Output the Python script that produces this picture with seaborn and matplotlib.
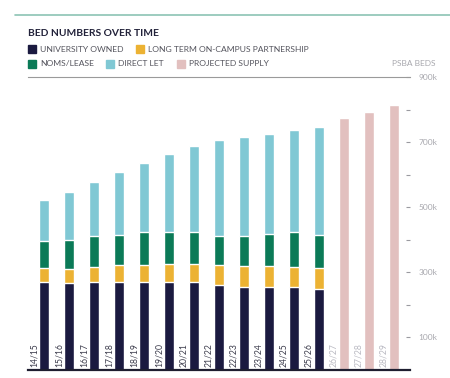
import matplotlib
matplotlib.use("Agg")
import matplotlib.pyplot as plt
from matplotlib.patches import Rectangle
from matplotlib.lines import Line2D
import numpy as np
import pandas as pd
import seaborn as sns

# data (thousands of beds)
years = ["14/15", "15/16", "16/17", "17/18", "18/19", "19/20", "20/21", "21/22",
         "22/23", "23/24", "24/25", "25/26", "26/27", "27/28", "28/29"]
university_owned = [270, 266, 270, 270, 270, 270, 270, 262, 256, 256, 256, 248]
long_term = [42, 43, 47, 51, 51, 56, 56, 59, 62, 62, 61, 65]
noms_lease = [83, 89, 94, 94, 103, 98, 98, 91, 94, 100, 107, 102]
direct_let = [128, 150, 167, 194, 213, 241, 265, 295, 303, 306, 312, 330]
projected = [773, 791, 813]

tick_vals = [100, 200, 300, 400, 500, 600, 700, 800, 900]
tick_labels = ["100k", "", "300k", "", "500k", "", "700k", "", "900k"]

c_uni = "#1b1a40"
c_lt = "#ecb233"
c_noms = "#0b7a57"
c_direct = "#80c8d4"
c_proj = "#e2c0bf"

sns.set_style("white")
plt.rcParams["font.family"] = ["Lato", "DejaVu Sans"]

n_actual = len(university_owned)
df = pd.DataFrame({"year": years})
df["uni"] = university_owned + [np.nan] * len(projected)
df["lt"] = df["uni"] + (long_term + [np.nan] * len(projected))
df["noms"] = df["lt"] + (noms_lease + [np.nan] * len(projected))
df["direct"] = df["noms"] + (direct_let + [np.nan] * len(projected))
df["proj"] = [np.nan] * n_actual + projected

fig = plt.figure(figsize=(4.5, 3.78), dpi=100)
ax = fig.add_axes([28 / 450, 8 / 378, 382 / 450, 293 / 378])

for col, color in [("proj", c_proj), ("direct", c_direct), ("noms", c_noms),
                   ("lt", c_lt), ("uni", c_uni)]:
    sns.barplot(data=df, x="year", y=col, color=color, width=0.42,
                saturation=1, ax=ax, order=years)

ax.set_xlim(-0.64, 14.64)
ax.set_ylim(0, 900)
ax.set_xlabel("")
ax.set_ylabel("")
ax.set_xticks([])

# year labels next to each bar
for i, yr in enumerate(years):
    col = "#3c3c4c" if i < n_actual else "#b9b9c2"
    ax.text(i - 0.4, 8, yr, rotation=90, ha="center", va="bottom",
            fontsize=6.2, color=col)

ax.yaxis.tick_right()
ax.set_yticks(tick_vals)
ax.set_yticklabels(tick_labels)
ax.tick_params(axis="y", direction="in", length=3, width=0.8, colors="#9a9aa0",
               labelsize=6, pad=6, labelcolor="#a8a8ae")
for s in ["left", "right"]:
    ax.spines[s].set_visible(False)
ax.spines["top"].set_color("#9a9a9a")
ax.spines["top"].set_linewidth(0.8)
ax.spines["bottom"].set_color("#1e1e30")
ax.spines["bottom"].set_linewidth(1.6)

# header line
fig.add_artist(Line2D([15 / 450, 1.0], [1 - 15 / 378, 1 - 15 / 378],
                      color="#8cc4b4", lw=1.2))
fig.text(28 / 450, 1 - 33 / 378, "BED NUMBERS OVER TIME", fontsize=7.4,
         fontweight="bold", color="#22223a", va="center")

legend_items = [
    (28, 49, c_uni, "UNIVERSITY OWNED"),
    (136, 49, c_lt, "LONG TERM ON-CAMPUS PARTNERSHIP"),
    (28, 64, c_noms, "NOMS/LEASE"),
    (106, 64, c_direct, "DIRECT LET"),
    (177, 64, c_proj, "PROJECTED SUPPLY"),
]
for px, py, color, label in legend_items:
    fig.add_artist(Rectangle((px / 450, 1 - (py + 4) / 378), 8 / 450, 8 / 378,
                             color=color, transform=fig.transFigure))
    fig.text((px + 12) / 450, 1 - py / 378, label, fontsize=6.1,
             color="#55555e", va="center")

fig.text(436 / 450, 1 - 64 / 378, "PSBA BEDS", fontsize=6, color="#a8a8ae",
         ha="right", va="center")

fig.savefig("out.png", dpi=100)
